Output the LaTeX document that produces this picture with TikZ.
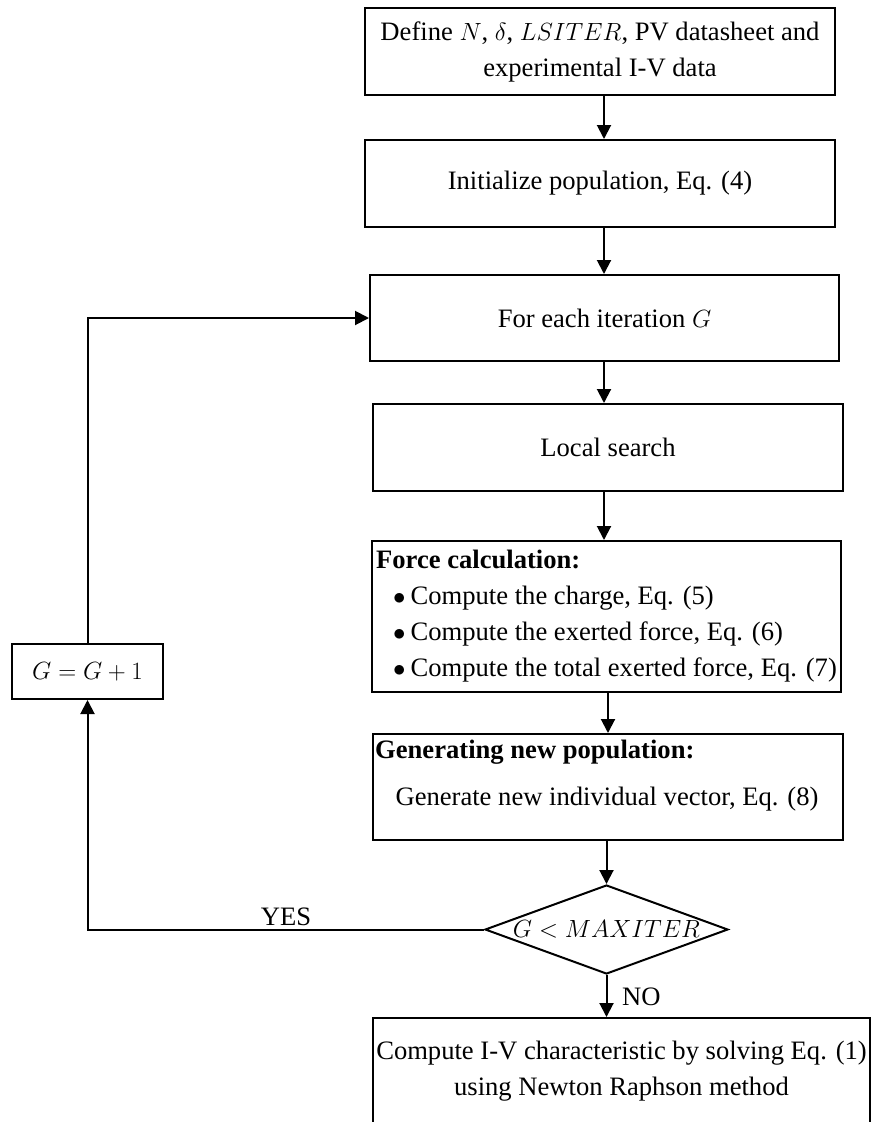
\documentclass[tikz,border=0pt]{standalone}
\usepackage{fontspec}
\setmainfont{Liberation Serif}
\usetikzlibrary{arrows.meta,shapes.geometric}
\begin{document}
\begin{tikzpicture}[x=1pt,y=-1pt,
  every node/.style={font=\fontsize{26.6pt}{36pt}\selectfont},
  box/.style={draw, line width=2pt, inner sep=0pt, rectangle},
  arr/.style={line width=2pt, -{Triangle[length=14pt,width=14pt]}},
  dec/.style={draw, line width=2pt, inner sep=0pt, diamond},
  txt/.style={inner sep=0pt},
]
\useasboundingbox (0,0) rectangle (872,1122);

\coordinate (c1) at (604,0);
\coordinate (c2) at (608,0);

\node[box, minimum width=470pt, minimum height=87pt, align=center] (b1) at (600,51.5)
  {Define $N$, $\delta$, $LSITER$, PV datasheet and\\experimental I-V data};
\node[box, minimum width=470pt, minimum height=87pt] (b2) at (600,183.5)
  {Initialize population, Eq. (4)};
\node[box, minimum width=469pt, minimum height=86pt] (b3) at (604.5,318)
  {For each iteration $G$};
\node[box, minimum width=470pt, minimum height=87pt] (b4) at (608,447.5)
  {Local search};
\node[box, minimum width=469pt, minimum height=151pt, align=left] (force) at (606.5,616.5)
  {\textbf{Force calculation:}\\
   \hspace*{17pt}$\bullet$\hspace{5pt}Compute the charge, Eq. (5)\\
   \hspace*{17pt}$\bullet$\hspace{5pt}Compute the exerted force, Eq. (6)\\
   \hspace*{17pt}$\bullet$\hspace{5pt}Compute the total exerted force, Eq. (7)};
\node[box, minimum width=470pt, minimum height=106pt] (gen) at (608,787) {};
\node[txt, anchor=base west] (genT1) at (375,758) {\textbf{Generating new population:}};
\node[txt, anchor=base] (genT2) at (607,805) {Generate new individual vector, Eq. (8)};
\node[dec, minimum width=243pt, minimum height=89pt,
      label={[txt]center:{$G<MAXITER$}}] (dia) at (606.5,929.5) {};
\node[box, minimum width=497pt, minimum height=107pt, align=center] (final) at (621.5,1071.5)
  {Compute I-V characteristic by solving Eq. (1)\\using Newton Raphson method};
\node[box, minimum width=151pt, minimum height=55pt] (gbox) at (87.5,671.5) {$G=G+1$};

\draw[arr] (b1.south -| c1) -- (b2.north -| c1);
\draw[arr] (b2.south -| c1) -- (b3.north -| c1);
\draw[arr] (b3.south -| c1) -- (b4.north -| c1);
\draw[arr] (b4.south -| c1) -- (force.north -| c1);
\draw[arr] (force.south -| c2) -- (gen.north -| c2);
\draw[arr] (gen.south -| dia.north) -- (dia.north);
\draw[arr] (dia.south) -- (final.north -| dia.south);
\draw[arr] (dia.west) -| (gbox.south);
\draw[arr] (gbox.north) |- (b3.west);

\node[txt, anchor=base] (yes) at (286,925) {YES};
\node[txt, anchor=base west] (no) at (622,1005) {NO};
\end{tikzpicture}
\end{document}
